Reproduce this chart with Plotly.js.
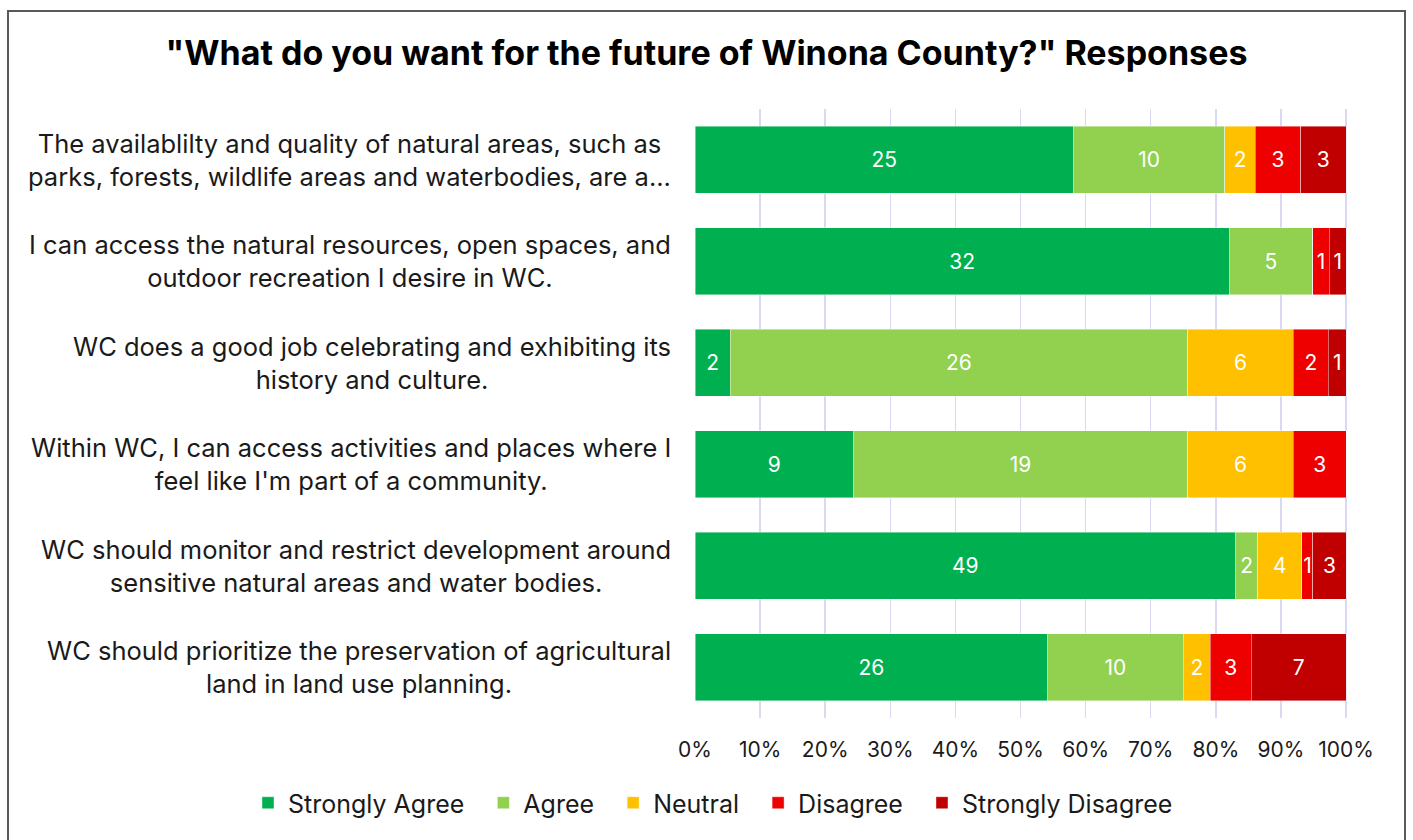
<!DOCTYPE html>
<html>
<head>
<meta charset="utf-8">
<script src="https://cdn.plot.ly/plotly-3.0.1.min.js"></script>
<style>
  html, body { margin: 0; padding: 0; background: #fff; overflow: hidden; }
  #chart { width: 1413px; height: 840px; position: absolute; left: 0; top: 0; }
  #frame { position: absolute; left: 7px; top: 10px; width: 1399px; height: 840px; border: 2px solid #595959; box-sizing: border-box; pointer-events: none; }
</style>
</head>
<body>
<div id="chart"></div>
<div id="frame"></div>
<script>
const categories = [
  "The availablilty and quality of natural areas, such as<br>parks, forests, wildlife areas and waterbodies, are a...",
  "I can access the natural resources, open spaces, and<br>outdoor recreation I desire in WC.",
  "WC does a good job celebrating and exhibiting its<br>history and culture.",
  "Within WC, I can access activities and places where I<br>feel like I'm part of a community.",
  "WC should monitor and restrict development around<br>sensitive natural areas and water bodies.",
  "WC should prioritize the preservation of agricultural<br>land in land use planning."
];
const seriesNames = ["Strongly Agree", "Agree", "Neutral", "Disagree", "Strongly Disagree"];
const stronglyAgree = [25, 32, 2, 9, 49, 26];
const agree = [10, 5, 26, 19, 2, 10];
const neutral = [2, 0, 6, 6, 4, 2];
const disagree = [3, 1, 2, 3, 1, 3];
const stronglyDisagree = [3, 1, 1, 0, 3, 7];
const tickValues = [0, 10, 20, 30, 40, 50, 60, 70, 80, 90, 100];
const tickLabels = ["0%", "10%", "20%", "30%", "40%", "50%", "60%", "70%", "80%", "90%", "100%"];

const colors = ["#00B050", "#92D050", "#FFC000", "#EE0000", "#C00000"];
const seriesValues = [stronglyAgree, agree, neutral, disagree, stronglyDisagree];
const FONT = "Inter, Open Sans, sans-serif";
const legendPad = "\u00A0\u00A0";

const traces = seriesValues.map((vals, i) => ({
  type: "bar",
  orientation: "h",
  name: i < seriesNames.length - 1 ? seriesNames[i] + legendPad : seriesNames[i],
  y: categories,
  x: vals,
  text: vals.map(v => v > 0 ? String(v) : ""),
  textposition: "inside",
  insidetextanchor: "middle",
  textangle: 0,
  constraintext: "none",
  textfont: { color: "#ffffff", size: 21, family: FONT },
  marker: { color: colors[i], line: { color: "rgba(255,255,255,0.6)", width: 0.7 } },
  width: 0.66,
  hoverinfo: "name+x"
}));

const annotations = categories.map(c => ({
  xref: "paper", yref: "y",
  x: 0, y: c,
  xanchor: "right", yanchor: "middle",
  xshift: -22,
  align: "center",
  text: c,
  showarrow: false,
  font: { family: FONT, size: 25.5, color: "#1a1a1a" }
}));

const layout = {
  width: 1413, height: 840,
  margin: { l: 695, r: 65, t: 109, b: 122 },
  paper_bgcolor: "rgba(0,0,0,0)",
  plot_bgcolor: "#ffffff",
  barmode: "stack",
  barnorm: "percent",
  uniformtext: { minsize: 21, mode: "show" },
  title: {
    text: "\"What do you want for the future of Winona County?\" Responses",
    xref: "container", x: 0.5, xanchor: "center",
    yref: "container", y: 1 - 53 / 840, yanchor: "middle",
    font: { family: FONT, size: 34, color: "#000000", weight: "bold" }
  },
  xaxis: {
    range: [0, 100.3],
    tickvals: tickValues,
    ticktext: tickLabels,
    showgrid: true,
    gridcolor: "#D9D9F3",
    gridwidth: 1.5,
    zeroline: false,
    showline: false,
    ticks: "outside",
    ticklen: 13,
    tickcolor: "rgba(0,0,0,0)",
    tickfont: { family: FONT, size: 21, color: "#1a1a1a" },
    fixedrange: true
  },
  yaxis: {
    type: "category",
    autorange: "reversed",
    showticklabels: false,
    showgrid: false,
    zeroline: false,
    fixedrange: true
  },
  showlegend: true,
  legend: {
    orientation: "h",
    xref: "paper", x: (248 - 695) / 653, xanchor: "left",
    yref: "paper", y: -(803 - 718) / 609, yanchor: "middle",
    font: { family: FONT, size: 25, color: "#1a1a1a" },
    itemwidth: 30,
    traceorder: "normal"
  },
  annotations: annotations
};

Plotly.newPlot("chart", traces, layout, { displayModeBar: false, staticPlot: true });
</script>
</body>
</html>
